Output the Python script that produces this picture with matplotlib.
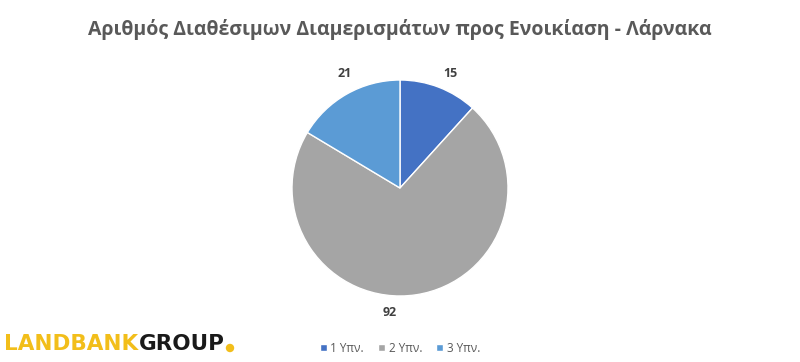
import matplotlib
matplotlib.use("Agg")
import matplotlib.pyplot as plt
from matplotlib.patches import Ellipse

title = "Αριθμός Διαθέσιμων Διαμερισμάτων προς Ενοικίαση - Λάρνακα"
categories = ["1 Υπν.", "2 Υπν.", "3 Υπν."]
values = [15, 92, 21]
colors = ["#4472C4", "#A5A5A5", "#5B9BD5"]

plt.rcParams['font.family'] = ['Open Sans', 'DejaVu Sans']

fig = plt.figure(figsize=(8, 3.62), dpi=100)
W, H = 800, 362
cx, cy, r = 400, 188, 108
ax = fig.add_axes([(cx - r) / W, (H - cy - r) / H, 2 * r / W, 2 * r / H])
wedges, texts = ax.pie(values, colors=colors, startangle=90, counterclock=False,
                       labels=[str(v) for v in values], labeldistance=1.17,
                       wedgeprops=dict(edgecolor="white", linewidth=1.0),
                       textprops=dict(fontsize=9, fontweight="bold", color="#404040"))
# nudges to mimic the "best fit" placement of the original
nudges = [(0.05, -0.03), (-0.27, 0.0), (0.06, 0.04)]
for t, (dx, dy) in zip(texts, nudges):
    x, y = t.get_position()
    t.set_position((x + dx, y + dy))
    t.set_ha("center")
    t.set_va("center")
ax.set_aspect("equal")
ax.set_xlim(-1, 1)
ax.set_ylim(-1, 1)

fig.text(0.5, 1 - 30 / H, title, ha="center", va="center", fontsize=14,
         fontweight="bold", color="#595959")

# Legend
leg = fig.legend(wedges, categories, loc="center", bbox_to_anchor=(0.5, 1 - 348 / H),
                 ncol=3, frameon=False, fontsize=8.5, handlelength=0.6, handleheight=0.6,
                 columnspacing=1.2, handletextpad=0.3, labelcolor="#595959")

# Logo
t1 = fig.text(4 / W, 1 - 344 / H, "LANDBANK", ha="left", va="center", fontsize=15.5,
              fontweight="bold", color="#F2BE1A", family=["DejaVu Sans"])
fig.canvas.draw()
ext = t1.get_window_extent()
t2 = fig.text((ext.x1 + 1) / W, 1 - 344 / H, "GROUP", ha="left", va="center", fontsize=15.5,
              fontweight="bold", color="#1A1A1A", family=["DejaVu Sans"])
fig.canvas.draw()
ext2 = t2.get_window_extent()
fig.patches.append(Ellipse(((ext2.x1 + 5) / W, 1 - 348 / H), 7 / W, 7 / H,
                           transform=fig.transFigure, color="#F2BE1A"))

fig.savefig("out.png", dpi=100, facecolor="white")
